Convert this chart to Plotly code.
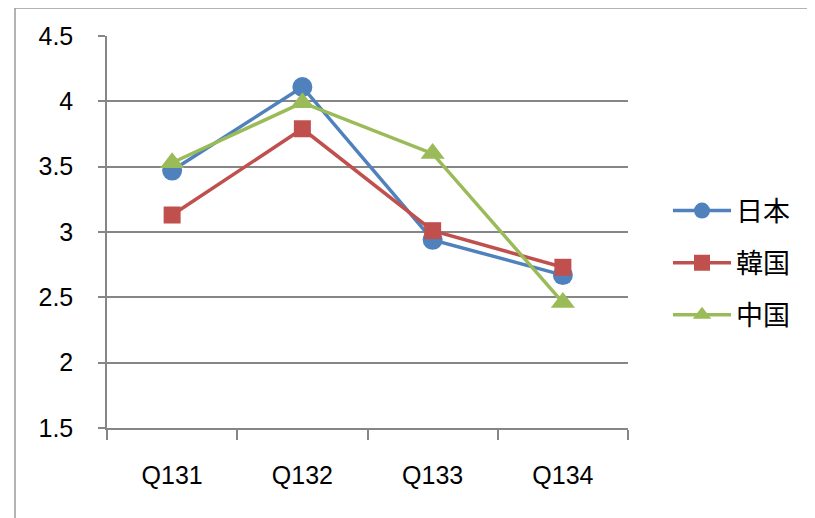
import plotly.graph_objects as go

categories = ["Q131", "Q132", "Q133", "Q134"]
japan = [3.47, 4.11, 2.94, 2.67]
korea = [3.13, 3.79, 3.01, 2.73]
china = [3.53, 3.99, 3.60, 2.46]
series_names = ["日本", "韓国", "中国"]
y_ticks = [1.5, 2, 2.5, 3, 3.5, 4, 4.5]

fig = go.Figure()
styles = [
    (japan, "#4F81BD", "circle", 20),
    (korea, "#C0504D", "square", 17),
    (china, "#9BBB59", "triangle-up", 21),
]
for name, (vals, color, sym, size) in zip(series_names, styles):
    fig.add_trace(go.Scatter(
        x=categories, y=vals, name=name, mode="lines+markers",
        legendgroup=name,
        line=dict(color=color, width=3.5),
        marker=dict(symbol=sym, size=size, color=color, line=dict(width=0)),
    ))

OFF = 8  # page body margin
L, R, T, B = 107 - OFF, 628 - OFF, 36 - OFF, 428 - OFF
W, H = 815 - OFF, 518 - OFF
fig.update_layout(
    width=W, height=H,
    margin=dict(l=L, r=W - R, t=T, b=H - B, autoexpand=False),
    paper_bgcolor="white", plot_bgcolor="white",
    font=dict(family="Liberation Sans, sans-serif", size=25, color="black"),
    showlegend=True,
    legend=dict(x=(668 - OFF - L) / (R - L), xanchor="left",
                y=(B - (263 - OFF)) / (B - T), yanchor="middle",
                font=dict(size=27, family="Noto Sans CJK JP, sans-serif"),
                tracegroupgap=14, bgcolor="rgba(0,0,0,0)", itemwidth=58),
    xaxis=dict(type="category", range=[-0.5, 3.5], showgrid=False,
               showline=True, linecolor="#868686", linewidth=1.5,
               ticks="outside", tickson="boundaries", ticklen=10, tickcolor="#868686", tickwidth=1.5,
               ticklabelstandoff=24),
    yaxis=dict(range=[1.5, 4.5], tickvals=y_ticks, ticktext=[str(v) for v in y_ticks],
               showgrid=True, gridcolor="#868686", gridwidth=1.5,
               showline=True, linecolor="#868686", linewidth=1.5,
               ticks="outside", ticklen=7, tickcolor="#868686", tickwidth=1.5,
               zeroline=False, ticklabelstandoff=20),
    shapes=[dict(type="rect", xref="paper", yref="paper",
                 x0=(15 - OFF - L) / (R - L), x1=(830 - L) / (R - L),
                 y0=(B - 540) / (B - T), y1=(B - (8 - OFF)) / (B - T),
                 line=dict(color="#9a9a9a", width=1.5), fillcolor="rgba(0,0,0,0)", layer="below")],
)
fig.write_html("out.html")
